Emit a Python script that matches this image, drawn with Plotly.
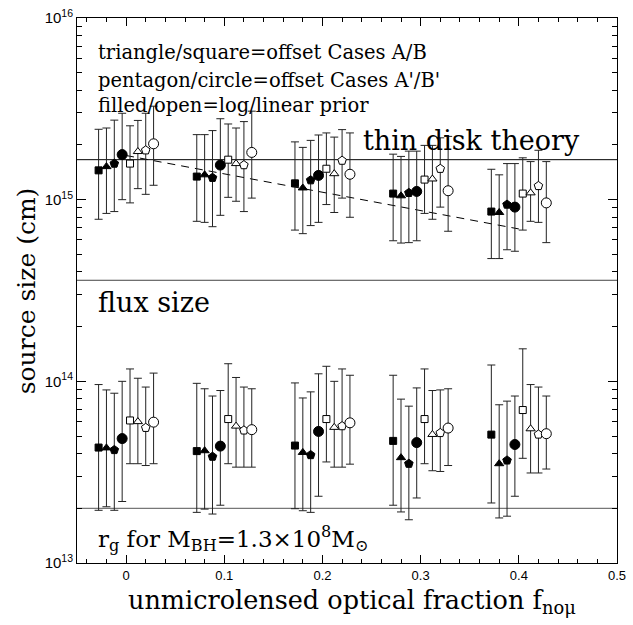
import plotly.graph_objects as go

# ---------------- data ----------------
fractions = [0.0, 0.1, 0.2, 0.3, 0.4]
case_names = ["Case B, log prior", "Case A, log prior", "Case A', log prior", "Case B', log prior",
              "Case B, linear prior", "Case A, linear prior", "Case A', linear prior", "Case B', linear prior"]
case_offsets = [-0.028, -0.020, -0.012, -0.004, 0.004, 0.012, 0.020, 0.028]
case_symbols = ["square", "triangle-up", "pentagon", "circle",
                "square", "triangle-up", "pentagon", "circle"]
case_filled = [True, True, True, True, False, False, False, False]
case_sizes = [7, 8, 9, 10, 7, 8, 9, 10]

# thin-disk (optical) size estimates, cm
disk_size = [
    [1.45e15, 1.34e15, 1.23e15, 1.08e15, 8.6e14],
    [1.52e15, 1.37e15, 1.16e15, 1.05e15, 8.5e14],
    [1.58e15, 1.32e15, 1.28e15, 1.09e15, 9.4e14],
    [1.77e15, 1.55e15, 1.36e15, 1.11e15, 9.1e14],
    [1.58e15, 1.66e15, 1.48e15, 1.29e15, 1.08e15],
    [1.84e15, 1.58e15, 1.39e15, 1.30e15, 1.09e15],
    [1.87e15, 1.55e15, 1.64e15, 1.48e15, 1.19e15],
    [2.03e15, 1.82e15, 1.38e15, 1.12e15, 9.6e14],
]
disk_upper = [
    [2.44e15, 2.28e15, 2.08e15, 1.78e15, 1.47e15],
    [2.48e15, 2.28e15, 1.94e15, 1.73e15, 1.37e15],
    [2.74e15, 2.40e15, 2.12e15, 1.85e15, 1.58e15],
    [2.99e15, 2.79e15, 2.27e15, 1.85e15, 1.58e15],
    [2.55e15, 2.61e15, 2.33e15, 1.99e15, 1.70e15],
    [2.73e15, 2.48e15, 2.21e15, 1.99e15, 1.62e15],
    [2.99e15, 2.69e15, 2.43e15, 2.19e15, 1.87e15],
    [3.27e15, 3.07e15, 2.33e15, 2.23e15, 1.62e15],
]
disk_lower = [
    [7.8e14, 7.6e14, 6.8e14, 5.94e14, 4.74e14],
    [8.4e14, 7.5e14, 6.5e14, 5.77e14, 4.74e14],
    [8.6e14, 7.1e14, 7.2e14, 5.8e14, 5.3e14],
    [1.0e15, 8.2e14, 7.5e14, 5.94e14, 5.2e14],
    [9.6e14, 1.03e15, 9.4e14, 8.4e14, 6.8e14],
    [1.15e15, 9.8e14, 8.5e14, 7.8e14, 7.6e14],
    [1.07e15, 8.6e14, 1.02e15, 9.1e14, 7.5e14],
    [1.2e15, 1.02e15, 8.0e14, 6.7e14, 5.8e14],
]

# flux-based size estimates, cm
flux_size = [
    [4.32e13, 4.13e13, 4.43e13, 4.70e13, 5.09e13],
    [4.30e13, 4.15e13, 4.06e13, 3.80e13, 3.52e13],
    [4.19e13, 3.85e13, 3.93e13, 3.52e13, 3.67e13],
    [4.84e13, 4.40e13, 5.30e13, 4.60e13, 4.49e13],
    [6.09e13, 6.20e13, 6.20e13, 6.20e13, 6.95e13],
    [6.00e13, 5.67e13, 5.58e13, 5.10e13, 5.48e13],
    [5.55e13, 5.37e13, 5.67e13, 5.20e13, 5.10e13],
    [5.96e13, 5.42e13, 5.91e13, 5.53e13, 5.15e13],
]
flux_upper = [
    [9.6e13, 9.75e13, 9.8e13, 1.08e14, 1.23e14],
    [8.97e13, 9.1e13, 8.1e13, 7.98e13, 7.43e13],
    [8.6e13, 8.3e13, 8.75e13, 7.3e13, 7.78e13],
    [1.0e14, 8.9e13, 1.1e14, 9.2e13, 8.3e13],
    [1.17e14, 1.25e14, 1.21e14, 1.17e14, 1.51e14],
    [1.04e14, 1.05e14, 1.0e14, 8.9e13, 9.6e13],
    [9.3e13, 9.3e13, 1.17e14, 8.97e13, 9.3e13],
    [1.11e14, 9.1e13, 1.08e14, 9.1e13, 8.3e13],
]
flux_lower = [
    [1.95e13, 1.90e13, 1.99e13, 2.08e13, 2.14e13],
    [2.04e13, 1.98e13, 1.94e13, 1.91e13, 1.77e13],
    [1.95e13, 1.86e13, 1.90e13, 1.73e13, 1.81e13],
    [2.18e13, 2.08e13, 2.33e13, 2.28e13, 2.33e13],
    [3.52e13, 3.52e13, 3.60e13, 3.52e13, 3.77e13],
    [3.52e13, 3.37e13, 3.37e13, 3.22e13, 3.13e13],
    [3.44e13, 3.37e13, 3.37e13, 3.19e13, 3.13e13],
    [3.52e13, 3.37e13, 3.50e13, 3.44e13, 3.29e13],
]

thin_disk_size = 1.66e15
flux_size_level = 3.6e14
rg_size = 2.0e13
trend_x = [0.0, 0.4]
trend_y = [1.75e15, 6.9e14]

x_range = [-0.05, 0.5]
x_tickvals = [0.0, 0.1, 0.2, 0.3, 0.4, 0.5]
x_ticktext = ["0", "0.1", "0.2", "0.3", "0.4", "0.5"]
y_tickvals = [1e13, 1e14, 1e15, 1e16]
y_ticktext = ["10<sup>13</sup>", "10<sup>14</sup>", "10<sup>15</sup>", "10<sup>16</sup>"]

# ---------------- figure ----------------
SERIF = "DejaVu Serif"
fig = go.Figure()

for level, col in [(thin_disk_size, "black"), (flux_size_level, "#444"), (rg_size, "#555")]:
    fig.add_trace(go.Scatter(x=x_range, y=[level, level], mode="lines",
                             line=dict(color=col, width=1), showlegend=False, hoverinfo="skip"))

fig.add_trace(go.Scatter(x=trend_x, y=trend_y, mode="lines",
                         line=dict(color="black", width=1, dash="8px,6px"),
                         showlegend=False, hoverinfo="skip"))

for i in range(8):
    xs, ys, up, dn = [], [], [], []
    for j, f in enumerate(fractions):
        for vals, hi, lo in [(disk_size, disk_upper, disk_lower), (flux_size, flux_upper, flux_lower)]:
            v = vals[i][j]
            xs.append(f + case_offsets[i])
            ys.append(v)
            up.append(hi[i][j] - v)
            dn.append(v - lo[i][j])
    marker = dict(symbol=case_symbols[i], size=case_sizes[i],
                  color="black" if case_filled[i] else "white",
                  line=dict(color="black", width=1))
    fig.add_trace(go.Scatter(
        x=xs, y=ys, mode="markers", name=case_names[i], marker=marker,
        error_y=dict(type="data", symmetric=False, array=up, arrayminus=dn,
                     color="#222", thickness=1, width=4),
        showlegend=False))

fig.update_xaxes(range=x_range, showline=True, linecolor="black", linewidth=1, mirror="allticks",
                 ticks="inside", ticklen=8, tickcolor="black",
                 tickvals=x_tickvals, ticktext=x_ticktext, ticklabeloverflow="allow",
                 tickfont=dict(family="Arial", size=13, color="black"),
                 minor=dict(ticks="inside", ticklen=4, dtick=0.02, tickcolor="black"),
                 showgrid=False, zeroline=False)
minor_y = [m * 10 ** e for e in (13, 14, 15) for m in range(2, 10)]
fig.update_yaxes(type="log", range=[13, 16], showline=True, linecolor="black", linewidth=1,
                 mirror="allticks", ticks="inside", ticklen=9, tickcolor="black",
                 tickvals=y_tickvals, ticktext=y_ticktext, ticklabeloverflow="allow",
                 tickfont=dict(family="Arial", size=15, color="black"),
                 minor=dict(ticks="inside", ticklen=5, tickvals=minor_y, tickcolor="black"),
                 showgrid=False, zeroline=False)

def note(text, x, y, size, xanchor="left", angle=0):
    fig.add_annotation(text=text, x=x, y=y, xref="paper", yref="paper", showarrow=False,
                       xanchor=xanchor, yanchor="middle", textangle=angle,
                       font=dict(family=SERIF, size=size, color="black"))

note("triangle/square=offset Cases A/B", 0.036, 0.937, 19.5)
note("pentagon/circle=offset Cases A'/B'", 0.036, 0.886, 19.5)
note("filled/open=log/linear prior", 0.036, 0.840, 19.5)
note("thin disk theory", 0.526, 0.775, 27)
note("flux size", 0.036, 0.478, 27)
note("r<sub>g</sub> for M<sub>BH</sub>=1.3×10<sup>8</sup>M<sub>⊙</sub>", 0.036, 0.045, 23)
note("unmicrolensed optical fraction f<sub>noμ</sub>", 0.51, -0.07, 25.5, xanchor="center")
note("source size (cm)", -0.093, 0.5, 25, xanchor="center", angle=-90)

fig.update_layout(width=633, height=625, margin=dict(l=77, r=7, t=10, b=62),
                  plot_bgcolor="white", paper_bgcolor="white")

fig.write_html("out.html")
